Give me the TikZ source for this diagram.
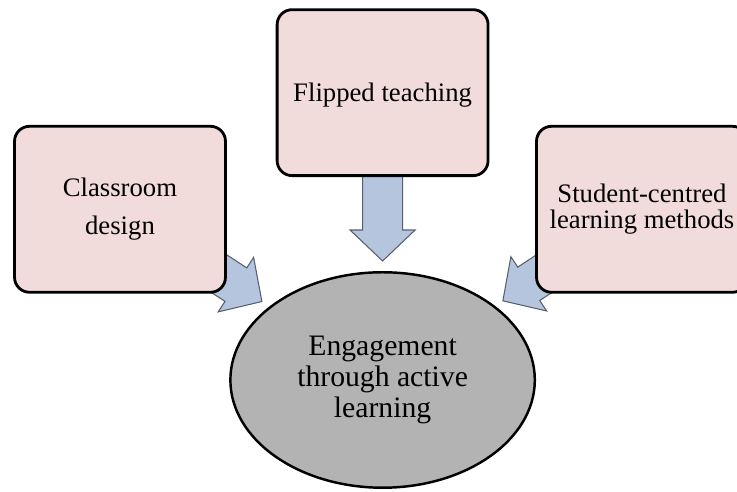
\documentclass[tikz,border=0pt]{standalone}
\usepackage{fontspec}
\setmainfont{Liberation Serif}
\usetikzlibrary{positioning, calc, shapes.geometric, backgrounds}
\definecolor{boxfill}{RGB}{242, 220, 219}
\definecolor{hubfill}{RGB}{179, 179, 179}
\definecolor{arrowfill}{RGB}{181, 197, 222}
\definecolor{arrowline}{RGB}{85, 95, 110}

% fat arrow from #1 (tail) to #2 (tip)
\newcommand{\blockarrow}[2]{%
  \coordinate (head) at ($(#2)!0.62cm!(#1)$);
  \draw[flow] ($(#1)!0.4cm!-90:(#2)$) -- ($(head)!0.4cm!90:(#1)$)
    -- ($(head)!0.65cm!90:(#1)$) -- (#2)
    -- ($(head)!0.65cm!-90:(#1)$) -- ($(head)!0.4cm!-90:(#1)$)
    -- ($(#1)!0.4cm!90:(#2)$) -- cycle;
}

\begin{document}
\begin{tikzpicture}[
                x=0.02cm, y=0.02cm,
                box/.style={rectangle, draw=black, line width=1.6pt, fill=boxfill,
                    rounded corners=0.3cm, minimum width=4.22cm, minimum height=3.32cm,
                    align=center, inner sep=0pt},
                hub/.style={ellipse, draw=black, line width=1.4pt, fill=hubfill,
                    minimum width=6.09cm, minimum height=4.31cm, inner sep=0pt,
                    align=center, font=\fontsize{16.9}{17.5}\selectfont},
                flow/.style={draw=arrowline, fill=arrowfill, line width=0.6pt}
                ]
                \useasboundingbox (0,0) rectangle (737,492);
                \node[hub] (eng) at (382.6,112) {Engagement\\through active\\learning};
                \node[box, above=1.88cm of eng, text height=0.45cm,
                    font=\fontsize{15.2}{18}\selectfont] (flip) {Flipped teaching};
                \node[box, font=\fontsize{15.2}{21.4}\selectfont] (cls) at (120,282.7)
                    {Classroom\\design};
                \node[box, font=\fontsize{15.2}{14.9}\selectfont] (stud) at (642,282.7)
                    {Student-centred\\learning methods};
                \coordinate (tipf) at ($(eng.center)!2.38cm!(flip.center)$);
                \coordinate (tipc) at ($(eng.center)!2.88cm!(cls.center)$);
                \coordinate (tips) at ($(eng.center)!2.88cm!(stud.center)$);
                \begin{scope}[on background layer]
                    \blockarrow{flip.center}{tipf}
                    \blockarrow{cls.center}{tipc}
                    \blockarrow{stud.center}{tips}
                \end{scope}
            \end{tikzpicture}
\end{document}
